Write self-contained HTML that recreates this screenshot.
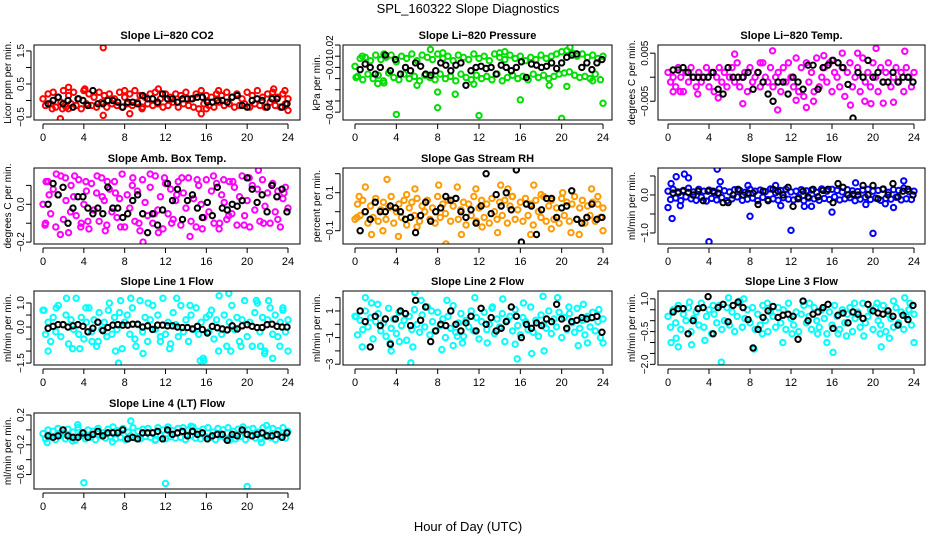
<!DOCTYPE html>
<html><head><meta charset="utf-8"><style>
body{margin:0;background:#fff}
svg{display:block;font-family:"Liberation Sans",Arial,sans-serif}
</style></head><body>
<svg id="chart" width="936" height="540" viewBox="0 0 936 540">
<rect width="936" height="540" fill="#fff"/>
<text x="468" y="13" font-size="13" text-anchor="middle">SPL_160322  Slope Diagnostics</text>
<text x="468" y="531" font-size="13" text-anchor="middle">Hour of Day (UTC)</text>
</svg>
<script>
const xTicks=[0,4,8,12,16,20,24];

const c1=[0.05,-0.15,0.2,-0.1,0.25,-0.2,0.1,-0.05,0.3,-0.2,0.15,-0.1,0.25,-0.15,0.05,-0.25,0.3,-0.1,0.2,-0.15,0.1,-0.2,0.25,-0.05,0.15,-0.2,0.2,-0.1,0.05,-0.15,0.25,-0.2,0.1,-0.1,0.2,-0.15,0.3,-0.05,0.15,-0.2,0.1,-0.1,0.2,-0.15,0.25,-0.1,0.05,-0.2,0.2,-0.15,0.1,-0.05,0.2,-0.2,0.15,-0.1,0.25,-0.15,0.05,-0.2,0.2,-0.25,0.3,-0.1,0.15,-0.15,0.1,-0.2,0.2,-0.05,0.15,-0.15,0.25,-0.1,0.1,-0.2,0.2,-0.15,0.05,-0.1,0.25,-0.2,0.15,-0.1,0.3,-0.15,0.1,-0.2,0.2,-0.05,0.25,-0.15,0.1,-0.2,0.2,-0.1,0.05];
const o1=[[5.9,1.6],[1.7,-0.55],[5.9,-0.45],[8.5,-0.4],[15.5,-0.4],[24,-0.3],[2.5,0.4],[4.1,0.35],[8,0.3],[11.3,0.35],[17.2,0.3],[22.6,0.35],[23.7,0.3],[0.9,-0.25],[16,-0.25],[1.9,-0.25],[2.5,-0.25],[9.7,-0.25]];
const b1=[-0.1,0,0.1,-0.1,0.0,-0.2,0.05,0,-0.15,0.3,-0.1,-0.1,0,0,-0.05,-0.2,-0.05,-0.05,-0.1,0.15,0.05,0.05,-0.05,0.2,0.05,0.05,-0.05,0.05,0.05,0.05,0.1,0.1,-0.05,-0.05,0.0,0.0,-0.05,0.1,0.15,-0.15,-0.2,0.0,0.05,0,-0.2,0.05,0.05,-0.2,-0.1];

const c2=[0.001,-0.008,0.008,-0.011,0.009,-0.006,0.006,-0.01,0.011,-0.007,0.007,-0.012,0.009,-0.005,0.011,-0.009,0.005,-0.011,0.01,-0.006,0.008,-0.01,0.012,-0.008,0.006,-0.012,0.011,-0.007,0.009,-0.009,0.007,-0.011,0.012,-0.006,0.008,-0.01,0.01,-0.008,0.006,-0.012,0.011,-0.006,0.009,-0.009,0.007,-0.011,0.012,-0.007,0.008,-0.01,0.01,-0.008,0.006,-0.011,0.012,-0.006,0.009,-0.012,0.007,-0.009,0.011,-0.007,0.008,-0.01,0.01,-0.008,0.006,-0.011,0.009,-0.006,0.007,-0.009,0.011,-0.007,0.008,-0.01,0.01,-0.008,0.012,-0.006,0.014,-0.005,0.015,-0.004,0.013,-0.007,0.01,-0.009,0.012,-0.008,0.009,-0.01,0.011,-0.006,0.008,-0.011,0.01];
const o2=[[4,-0.042],[12,-0.043],[20,-0.0455],[24,-0.032],[8,-0.036],[16,-0.029],[8,-0.022],[9.7,-0.024],[6,-0.016],[2.2,-0.0145],[2.8,-0.014],[11.5,-0.015],[18.8,-0.016],[20.5,-0.017],[7.3,0.016],[8.5,0.013],[2.8,0.012],[20.8,0.018],[14,0.013],[23,-0.012],[0.1,-0.009],[0.7,0.01],[14.5,0.014]];
const b2=[-0.002,0.003,0,-0.006,0,0.011,-0.003,0.007,-0.006,0,-0.003,0.004,0.001,-0.006,-0.007,-0.003,0.004,0.002,-0.003,0.002,0.004,-0.016,-0.003,0,0.001,-0.001,0,-0.006,0.002,0,-0.003,0,0.005,-0.009,0.003,0.002,0,0.001,0.004,-0.001,0.004,0.009,0.011,0.012,0,0.004,-0.002,0.004,0.007];

const c3=[0.001,-0.001,0,-0.002,0.002,0,-0.003,0.001,-0.001,0.002,0,-0.002,0.001,-0.001,0,0.002,-0.002,0.001,-0.003,0,0.002,-0.001,0.001,-0.002,0,0.002,-0.001,0.003,-0.002,0,0.001,-0.003,0.002,-0.001,0,0.001,-0.002,0.003,0,-0.001,0.002,-0.002,0,0.001,-0.003,0.002,-0.001,0.003,0,-0.002,0.004,-0.003,0.002,-0.004,0.003,-0.001,0.001,-0.003,0.004,-0.002,0,0.002,-0.001,0.003,-0.003,0.001,0,-0.002,0.002,-0.004,0.001,0.003,-0.002,0,0.002,-0.003,0.004,-0.001,0.001,-0.002,0.003,0,-0.003,0.002,-0.001,0.001,0.003,-0.002,0,0.002,-0.001,0.001,-0.003,0.002,0,-0.002,0.001];
const o3=[[10.7,-0.0068],[12.5,-0.0048],[13.5,-0.0063],[19.8,-0.0055],[21,-0.0054],[22,-0.0052],[15.2,0.0045],[16,0.0035],[18.5,0.005],[20.3,0.006],[23.1,0.0054],[10.2,0.0055],[6.5,0.0048],[4.9,-0.0043],[2.9,-0.0035],[7.3,-0.0055],[14.2,-0.005],[17.8,-0.0058],[9,0.003],[0.5,-0.003],[1.2,-0.003],[17,0.005],[19.2,-0.005]];
const b3=[0.0015,0.0015,0.002,0.001,0,0,0,0,0.001,-0.0025,-0.0035,0.002,0,0,0,0.001,-0.0025,0.001,-0.001,-0.0035,-0.005,-0.001,-0.001,-0.0035,0,-0.001,-0.0025,0.0025,0.0025,-0.0025,0.002,0.0025,0.0035,0.003,0.002,-0.0015,-0.0085,0.001,0,0.0035,0,0.001,-0.001,-0.001,0.001,-0.001,0,0,-0.001];

const c4=[0.0,-0.1,0.12,-0.05,0.08,-0.12,0.05,0.15,-0.08,0.02,-0.15,0.1,0.04,-0.06,0.13,-0.1,0.0,0.07,-0.13,0.11,-0.03,0.06,-0.09,0.14,0.02,-0.11,0.08,-0.04,0.12,-0.07,0.03,0.16,-0.12,0.05,-0.02,0.1,-0.09,0.07,-0.14,0.13,0.01,-0.06,0.09,-0.1,0.15,-0.03,0.04,-0.13,0.11,-0.05,0.08,-0.08,0.02,0.12,-0.11,0.06,-0.02,0.14,-0.09,0.03,-0.12,0.1,0.0,-0.07,0.13,-0.04,0.07,-0.1,0.11,-0.13,0.05,0.01,-0.08,0.12,-0.05,0.09,-0.11,0.04,0.15,-0.06,0.02,-0.12,0.1,-0.03,0.08,-0.09,0.13,-0.01,0.06,-0.1,0.11,-0.04,0.07,-0.12,0.03,0.09,-0.02];
const o4=[[0.3,0.12],[0.9,0.22],[1.7,-0.16],[1.3,0.16],[2.2,0.14],[3.1,0.15],[3.7,-0.12],[4.2,0.12],[5.3,0.15],[6.3,0.12],[6.1,-0.14],[7.6,-0.12],[8.8,0.14],[9.4,-0.1],[10.5,0.16],[11.3,-0.15],[11.9,0.14],[12.6,-0.1],[13.6,0.14],[14.4,-0.17],[15.1,0.13],[15.6,-0.13],[16.7,0.15],[17.7,0.13],[17.3,-0.1],[18.6,0.12],[19.7,-0.11],[20.2,0.14],[21.1,0.18],[21.6,-0.1],[22.4,0.1],[23,-0.08],[23.6,0.06],[0.2,-0.11],[4.4,-0.09],[9.8,-0.2],[0.6,0.05],[2.7,-0.04],[5.8,0.04],[7.1,0.06],[10.9,-0.05],[13.1,0.05],[18.2,-0.06],[22.9,0.04]];
const b4=[0,0.11,0.05,0.09,-0.1,-0.02,0.04,0.04,-0.02,-0.05,-0.02,-0.05,0.09,-0.02,-0.02,-0.07,-0.05,0.02,0.05,-0.05,-0.15,-0.05,-0.11,-0.03,0.11,0.02,0.08,-0.08,0.02,0.05,-0.02,-0.07,0.01,-0.06,0.09,-0.02,-0.03,0.0,-0.01,0.02,0.14,0.08,0.01,0.05,-0.04,0.1,0.04,0.08,-0.04];

const c5=[-0.04,0.04,-0.02,0.06,0.0,-0.06,0.03,-0.03,0.07,-0.05,0.01,0.05,-0.04,0.02,0.08,-0.06,0.0,0.04,-0.03,0.06,-0.07,0.02,0.05,-0.02,0.07,-0.05,0.03,0.0,0.06,-0.04,0.02,-0.06,0.08,-0.03,0.04,-0.01,0.06,-0.05,0.03,0.07,-0.04,0.01,0.05,-0.07,0.04,-0.02,0.08,-0.05,0.02,0.06,-0.03,0.04,-0.06,0.07,0.0,-0.04,0.05,-0.02,0.06,-0.06,0.03,0.08,-0.04,0.01,0.05,-0.05,0.07,-0.02,0.04,-0.07,0.06,0.0,-0.03,0.08,-0.05,0.03,0.06,-0.04,0.02,-0.06,0.07,-0.02,0.05,-0.05,0.04,0.08,-0.04,0.02,0.06,-0.06,0.03,-0.02,0.05,-0.05,0.04,-0.03,0.02];
const o5=[[0.4,0.08],[1,0.13],[1.6,-0.12],[3.1,0.17],[2.7,-0.1],[4.2,-0.13],[5.8,0.12],[8.1,0.14],[8.8,-0.17],[9.9,0.13],[10.3,-0.12],[11.7,0.12],[13.8,-0.11],[14.1,0.14],[14.8,0.12],[15.2,0.08],[17,-0.12],[17.3,0.14],[20.1,0.1],[20.9,-0.11],[21.7,-0.12],[22.9,0.12],[23.5,0.08],[24,-0.1],[6,-0.08],[12.3,-0.08],[19,-0.09],[0.2,-0.03],[5,0.09],[18,0.09]];
const b5=[-0.1,0.0,-0.04,0.05,0.0,0.0,0.03,0.02,0.0,-0.04,-0.03,-0.11,-0.02,0.05,-0.05,0.0,0.02,0.08,0.06,0.07,0.0,-0.03,0.01,-0.06,0.03,0.2,-0.01,0.09,0.03,0.1,0.01,0.22,-0.16,0.04,0.03,-0.12,0.01,0.07,0.07,-0.03,0.02,0.03,0.11,-0.04,-0.06,-0.03,0.04,-0.04,-0.03];

const c6=[0.1,-0.12,0.15,-0.08,0.05,-0.15,0.12,-0.05,0.18,-0.1,0.08,-0.14,0.15,-0.06,0.1,-0.16,0.13,-0.09,0.06,-0.13,0.16,-0.07,0.11,-0.15,0.08,-0.1,0.14,-0.05,0.12,-0.14,0.07,-0.11,0.15,-0.08,0.1,-0.15,0.13,-0.06,0.09,-0.12,0.16,-0.1,0.06,-0.14,0.12,-0.07,0.15,-0.11,0.08,-0.13,0.1,-0.06,0.14,-0.15,0.11,-0.08,0.13,-0.1,0.07,-0.14,0.16,-0.09,0.1,-0.12,0.15,-0.05,0.12,-0.13,0.08,-0.1,0.14,-0.07,0.11,-0.15,0.09,-0.11,0.13,-0.06,0.15,-0.12,0.1,-0.08,0.12,-0.14,0.16,-0.09,0.07,-0.11,0.14,-0.06,0.12,-0.13,0.18,-0.1,0.09,-0.12,0.1];
const o6=[[0,-0.33],[0.4,-0.62],[0.8,0.48],[1.6,0.55],[2,0.45],[1.2,-0.28],[4,-1.23],[4.8,0.68],[5.1,0.35],[8,-0.56],[12,-0.93],[13.3,-0.3],[14,-0.3],[16,-0.45],[18.3,0.32],[19.3,-0.25],[20,-1.01],[21.2,-0.23],[22,-0.33],[23,0.37],[11,-0.28],[0.3,0.3],[7.8,0.25],[10.5,0.25]];
const b6=[0.05,0.08,0.1,0.07,0.0,0.1,-0.15,0.1,0.1,0.05,-0.2,-0.2,0.0,0.15,0.0,0.05,0.05,-0.25,0.1,-0.15,0.15,0.1,0.0,0.2,-0.3,-0.1,0.1,-0.05,0.15,-0.05,0.12,0.15,-0.2,0.3,0.2,0.0,0.02,0.0,0.25,0.0,0.25,-0.1,0.15,0.0,0.3,-0.05,0.1,0.15,0.0];

const c7=[0.7,-0.3,0.2,-0.6,0.4,-0.2,0.9,-0.4,0.1,0.5,-0.7,0.3,-0.1,1.2,-0.3,0.4,-0.5,0.2,0.8,-0.2,0.3,-0.8,0.6,-0.1,0.2,-0.4,1.0,-0.3,0.4,-0.1,0.6,-0.9,0.2,0.5,-0.3,0.8,-0.5,0.1,1.1,-0.2,0.4,-0.6,0.3,0.9,-0.1,0.5,-0.4,1.2,-0.3,0.2,-0.7,0.6,0.1,-0.4,0.9,-0.2,0.3,-0.6,0.5,-0.1,0.8,-0.3,0.2,-1.4,0.4,-0.2,0.7,-0.5,0.3,1.3,-0.3,0.5,-0.8,0.2,0.9,-0.1,0.4,-0.6,0.3,1.1,-0.4,0.2,-0.8,0.6,1.0,-0.2,0.4,-1.0,0.3,0.8,-0.3,0.5,-0.4,0.2,0.7,-0.2,0.3];
const o7=[[0.1,0.7],[0.5,-1.0],[2.3,1.2],[2.9,-0.9],[3.6,-0.9],[4.2,0.8],[4.8,-0.6],[5.4,-0.6],[7.4,-1.5],[7.1,-1.0],[7.6,1.1],[8.6,1.2],[9.1,-0.8],[9.8,-1.1],[11.5,-0.6],[12.4,-0.9],[13.1,1.2],[14.4,0.9],[15.4,-1.4],[15.7,-1.3],[17.2,-1.0],[18.2,1.4],[18.4,-1.0],[19.4,-0.8],[20.9,1.1],[21.3,-0.8],[21.7,-1.1],[22.5,-1.3],[22.1,1.1],[23.2,-0.8],[24,-1.0],[23.5,0.8],[1.3,0.8],[6.4,0.7],[10.3,1.0],[16.3,0.5]];
const b7=[-0.05,0.03,0.1,0.1,0.0,0.05,0.1,0.03,-0.2,-0.05,0.2,-0.15,-0.02,0.08,0.1,0.08,0.08,0.12,0.12,0.0,0.05,-0.1,0.08,0.08,0.05,0.05,0.0,-0.02,-0.02,-0.08,0.03,-0.1,-0.25,0.03,-0.03,-0.08,-0.12,0.05,-0.08,0.05,0.1,0.03,-0.02,-0.02,0.1,0.12,0.03,0.0,0.0];

const c8=[0.6,-0.8,0.3,-0.4,1.0,-0.2,0.5,-1.1,0.2,0.8,-0.5,0.1,-0.9,1.2,-0.3,0.4,-0.7,0.9,-0.1,0.3,-1.2,0.6,-0.4,1.1,0.0,-0.6,0.7,-0.2,1.3,-0.8,0.2,-0.5,0.9,-0.1,0.4,-1.0,0.6,-0.3,1.4,-0.6,0.1,0.8,-0.9,0.3,-0.2,1.0,-0.5,0.5,-1.1,0.2,0.9,-0.4,0.0,1.2,-0.7,0.4,-0.2,0.8,-1.3,0.3,0.6,-0.5,1.1,-0.1,-0.8,0.5,0.2,-0.4,1.3,-0.6,0.3,-0.9,0.7,0.0,-0.3,1.0,-0.7,0.4,-0.2,0.9,-1.0,0.5,-0.4,0.8,0.1,-0.6,1.2,-0.3,0.3,-0.8,0.6,-0.2,0.9,-0.5,0.2,-1.0,0.4];
const o8=[[0.1,0.6],[0.7,-1.7],[1,2.0],[1.6,1.6],[2.2,1.5],[3.4,-1.4],[3.5,-2.0],[4.3,-1.3],[5.4,-2.9],[5.6,-1.7],[5.8,2.4],[6.4,1.8],[7.4,1.0],[8.4,-1.9],[8.9,1.8],[9.5,-1.6],[10.4,-1.4],[11.6,2.0],[12.8,-1.4],[14.3,1.9],[15.5,-1.5],[15.7,-2.6],[16.3,1.6],[17.1,-2.2],[18.2,2.1],[18.3,-2.0],[19.6,2.0],[20.7,1.3],[21.6,-1.6],[22.1,1.5],[22.5,-1.4],[23.6,1.1],[24,-1.4],[13.3,1.3],[9.9,-0.9]];
const b8=[1.0,0.2,-1.7,0.6,-0.1,0.4,-1.5,0.4,1.0,0.8,-0.1,1.8,0.3,1.3,-1.3,-0.5,0.0,-0.1,1.0,0.0,-0.5,0.1,0.6,-0.5,1.2,0.0,0.5,-0.5,-0.3,0.2,1.3,0.6,-1.0,0.0,-0.3,0.1,-0.1,0.4,0.2,1.5,0.4,-0.3,0.2,0.3,0.5,0.4,0.5,0.6,-0.6];

const c9=[0.2,-0.3,0.5,-0.1,0.7,-0.4,0.3,0.0,0.6,-0.5,0.1,0.4,-0.2,0.8,-0.3,0.2,0.5,-0.6,0.3,-0.1,0.7,-0.4,0.0,0.6,-0.2,0.4,-0.5,0.2,0.8,-0.3,0.1,0.5,-0.1,0.6,-0.4,0.3,-0.2,0.7,0.0,-0.5,0.4,0.2,-0.3,0.6,-0.1,0.5,-0.4,0.8,0.1,-0.2,0.4,-0.5,0.3,0.7,-0.1,0.2,-0.4,0.6,0.0,-0.3,0.5,0.1,-0.6,0.4,-0.2,0.7,0.2,-0.4,0.5,-0.1,0.3,0.6,-0.5,0.1,0.4,-0.3,0.8,-0.1,0.2,0.5,-0.4,0.6,0.0,-0.2,0.7,-0.5,0.3,0.1,-0.3,0.6,-0.1,0.4,-0.4,0.2,0.5,-0.2,0.3];
const o9=[[0.3,-1.0],[0.8,-0.8],[1.0,-1.2],[2.1,0.85],[2.3,-1.1],[3.6,-0.9],[4.4,0.7],[5.2,-1.9],[5.9,1.05],[7.0,0.9],[7.4,1.0],[8.4,-1.3],[9.2,-0.6],[9.7,0.8],[11.2,-1.0],[12.1,-0.6],[13.8,0.8],[14.6,-0.6],[15.5,-1.0],[16.1,-1.45],[16.6,-0.6],[17.4,-0.7],[18.2,0.8],[19.1,-0.7],[20.4,0.8],[20.7,-0.6],[20.8,-1.2],[21.6,-0.8],[22.0,0.9],[23.1,1.05],[24.0,-1.0],[23.6,0.8]];
const b9=[0.4,0.55,0.55,-0.6,0.0,0.55,0.6,1.1,-0.6,0.6,0.75,-0.05,0.7,0.85,0.6,0.05,-1.25,-0.4,0.15,0.45,0.65,0.15,0.25,0.3,0.2,-0.85,0.9,0.0,0.3,0.4,0.6,0.75,-0.35,0.25,0.35,-0.1,0.4,0.3,0.1,0.75,0.45,0.35,0.3,0.45,0.2,-0.2,0.25,0.05,0.7];

const c10=[-0.05,-0.12,0.0,-0.09,-0.02,-0.13,0.02,-0.08,-0.04,-0.12,0.01,-0.1,-0.03,-0.14,0.03,-0.07,-0.05,-0.12,0.0,-0.1,-0.02,-0.13,0.02,-0.08,-0.04,-0.11,0.01,-0.09,0.04,-0.12,-0.01,-0.1,0.02,-0.13,-0.03,-0.08,0.03,-0.11,-0.02,-0.12,0.01,-0.09,0.02,-0.1,-0.04,-0.13,0.03,-0.08,0.0,-0.12,0.04,-0.09,-0.01,-0.11,0.02,-0.1,0.03,-0.13,0.0,-0.08,0.04,-0.11,-0.02,-0.12,0.01,-0.09,0.03,-0.1,-0.03,-0.13,0.02,-0.08,0.0,-0.11,0.03,-0.1,-0.02,-0.12,0.01,-0.09,0.04,-0.13,0.0,-0.08,0.02,-0.11,-0.03,-0.12,0.03,-0.09,0.0,-0.1,0.02,-0.13,-0.01,-0.08,0.03,-0.11,-0.02];
const o10=[[0.4,-0.17],[3.4,0.07],[4,-0.71],[8.6,0.12],[12,-0.72],[20,-0.76],[21.9,0.06],[21.4,-0.17],[2.9,-0.15],[6.8,-0.16],[11,-0.14],[14.5,0.05],[18.3,-0.14]];
const b10=[-0.08,-0.1,-0.08,0.0,-0.08,-0.1,-0.1,-0.04,-0.1,-0.06,-0.02,-0.08,-0.04,-0.04,-0.04,0.0,-0.12,-0.1,-0.12,-0.04,-0.04,-0.04,-0.02,-0.12,0.0,-0.06,-0.04,-0.02,-0.08,-0.02,-0.06,-0.04,-0.12,-0.08,-0.06,-0.06,-0.14,-0.06,-0.08,0.0,-0.06,-0.08,-0.06,-0.04,-0.08,-0.08,-0.06,-0.1,-0.04];

const panels=[
 {name:'co2',title:'Slope Li\u2212820 CO2',yt:'Licor ppm per min.',col:0,row:0,color:'#ff0000',lo:-0.59,hi:1.68,ticks:[-0.5,0,0.5,1,1.5],labels:{'-0.5':'\u22120.5','0.5':'0.5','1.5':'1.5'},c:c1,o:o1,b:b1},
 {name:'pressure',title:'Slope Li\u2212820 Pressure',yt:'kPa per min.',col:1,row:0,color:'#00dd00',lo:-0.047,hi:0.02,ticks:[0.02,0.01,0,-0.01,-0.02,-0.03,-0.04],labels:{'0.02':'0.02','0':'\u22120.01','-0.04':'\u22120.04'},c:c2,o:o2,b:b2},
 {name:'temp',title:'Slope Li\u2212820 Temp.',yt:'degrees C per min.',col:2,row:0,color:'#ff00ff',lo:-0.0089,hi:0.0067,ticks:[0.005,0,-0.005],labels:{'0.005':'0.005','-0.005':'\u22120.005'},c:c3,o:o3,b:b3},
 {name:'amb-box',title:'Slope Amb. Box Temp.',yt:'degrees C per min.',col:0,row:1,color:'#ff00ff',lo:-0.21,hi:0.192,ticks:[0.1,0,-0.1,-0.2],labels:{'0':'0.0','-0.2':'\u22120.2'},c:c4,o:o4,b:b4},
 {name:'gas-rh',title:'Slope Gas Stream RH',yt:'percent per min.',col:1,row:1,color:'#ff9a00',lo:-0.17,hi:0.23,ticks:[0.2,0.1,0,-0.1],labels:{'0.1':'0.1','-0.1':'\u22120.1'},c:c5,o:o5,b:b5},
 {name:'sample-flow',title:'Slope Sample Flow',yt:'ml/min per min.',col:2,row:1,color:'#0000ff',lo:-1.29,hi:0.71,ticks:[0.5,0,-0.5,-1],labels:{'0':'0.0','-1':'\u22121.0'},c:c6,o:o6,b:b6},
 {name:'line1-flow',title:'Slope Line 1 Flow',yt:'ml/min per min.',col:0,row:2,color:'#00ffff',lo:-1.58,hi:1.5,ticks:[1,0.5,0,-0.5,-1,-1.5],labels:{'1':'1.0','0':'0.0','-1.5':'\u22121.5'},c:c7,o:o7,b:b7},
 {name:'line2-flow',title:'Slope Line 2 Flow',yt:'ml/min per min.',col:1,row:2,color:'#00ffff',lo:-3.06,hi:2.5,ticks:[2,1,0,-1,-2,-3],labels:{'1':'1','-1':'\u22121','-3':'\u22123'},c:c8,o:o8,b:b8},
 {name:'line3-flow',title:'Slope Line 3 Flow',yt:'ml/min per min.',col:2,row:2,color:'#00ffff',lo:-2.03,hi:1.36,ticks:[1,0.5,0,-0.5,-1,-1.5,-2],labels:{'1':'1.0','-0.5':'\u22120.5','-2':'\u22122.0'},c:c9,o:o9,b:b9},
 {name:'line4-flow',title:'Slope Line 4 (LT) Flow',yt:'ml/min per min.',col:0,row:3,color:'#00ffff',lo:-0.794,hi:0.227,ticks:[0.2,0,-0.2,-0.4,-0.6],labels:{'0.2':'0.2','-0.2':'\u22120.2','-0.6':'\u22120.6'},c:c10,o:o10,b:b10}
];
const colBox=[[34,300],[343,612],[658,925]];
const colX=[[43,288],[355,603],[668,914]];
const rowBox=[[45,120],[168,244],[291,365],[413,489]];
const NS='http://www.w3.org/2000/svg';
const svg=document.getElementById('chart');
function mk(tag,attrs,parent,txt){const e=document.createElementNS(NS,tag);for(const k in attrs)e.setAttribute(k,attrs[k]);if(txt!==undefined)e.textContent=txt;parent.appendChild(e);return e;}
panels.forEach(p=>{
 const [L,R]=colBox[p.col],[T,B]=rowBox[p.row],[x0,x24]=colX[p.col];
 const xs=h=>x0+(x24-x0)*h/24;
 const ys=v=>B-(B-T)*(v-p.lo)/(p.hi-p.lo);
 const g=mk('g',{},svg);
 
 
 const t=mk('text',{x:(L+R)/2,y:T-6,'font-size':11,'font-weight':'bold','text-anchor':'middle'},g,p.title);
 
 
 const yt=mk('text',{transform:`translate(${L-23},${(T+B)/2}) rotate(-90)`,'font-size':10,'text-anchor':'middle'},g,p.yt);
 
 
 const xa=mk('line',{x1:x0,x2:x24,y1:B+4,y2:B+4,stroke:'#000'},g);
 
 
 xTicks.forEach(h=>{
  mk('line',{x1:xs(h),x2:xs(h),y1:B+4,y2:B+9,stroke:'#000'},g);
  const tl=mk('text',{x:xs(h),y:B+21,'font-size':11,'text-anchor':'middle'},g,String(h));
  
  
 });
 const yv=p.ticks.map(ys);
 const ya=mk('line',{x1:L-3,x2:L-3,y1:Math.min(...yv),y2:Math.max(...yv),stroke:'#000'},g);
 
 
 p.ticks.forEach(v=>{
  const y=ys(v);
  mk('line',{x1:L-8,x2:L-3,y1:y,y2:y,stroke:'#000'},g);
  const lab=p.labels[String(v)];
  if(lab){
   const tl=mk('text',{transform:`translate(${L-10},${y}) rotate(-90)`,'font-size':10,'text-anchor':'middle'},g,lab);
   
   
  }
 });
 const clip='clip-'+p.name;
 const cp=mk('clipPath',{id:clip},g);
 mk('rect',{x:L,y:T,width:R-L,height:B-T},cp);
 const pts=mk('g',{'clip-path':`url(#${clip})`,fill:'none','stroke-width':2},g);
 const n=p.c.length;
 p.c.forEach((v,i)=>{
  const c=mk('circle',{cx:xs(24*i/(n-1)),cy:ys(v),r:2.7,stroke:p.color},pts);
  
  
 });
 p.o.forEach(([h,v])=>{
  const c=mk('circle',{cx:xs(h),cy:ys(v),r:2.7,stroke:p.color},pts);
  
  
 });
 const m=p.b.length;
 p.b.forEach((v,i)=>{
  const c=mk('circle',{cx:xs(0.5+23.4*i/(m-1)),cy:ys(v),r:2.7,stroke:'#000'},pts);
  
  
 });
 const box=mk('rect',{x:L,y:T,width:R-L,height:B-T,fill:'none',stroke:'#000'},g);
 
 
});
</script>
</body></html>
